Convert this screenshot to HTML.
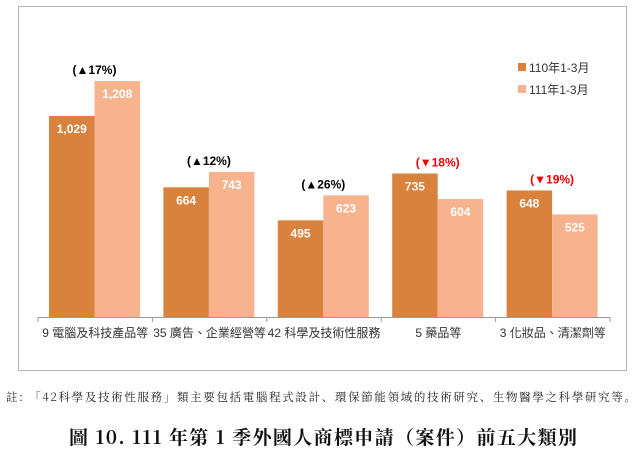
<!DOCTYPE html>
<html><head><meta charset="utf-8"><style>
body{margin:0;background:#fff;width:643px;height:452px;overflow:hidden;font-family:"Liberation Sans","Noto Sans CJK TC",sans-serif}
</style></head><body>
<svg id="c" width="643" height="452" xmlns="http://www.w3.org/2000/svg">
<rect x="18.5" y="6.5" width="608" height="364" fill="#fff" stroke="#b5b5b5"/>
<g id="bars"></g>
<g>
<rect x="518" y="63" width="8" height="8" fill="#d8823e"/>
<text x="529" y="72" font-size="12" fill="#333">110年1-3月</text>
<rect x="518" y="85" width="8" height="8" fill="#f6b38e"/>
<text x="529" y="94" font-size="12" fill="#333">111年1-3月</text>
</g>
<text x="6" y="401" font-size="11.5" textLength="630" lengthAdjust="spacing" fill="#222" font-family="'Noto Serif CJK SC','Liberation Serif',serif">註: 「42科學及技術性服務」類主要包括電腦程式設計、環保節能領域的技術研究、生物醫學之科學研究等。</text>
<text x="69" y="444" font-size="19" font-weight="bold" textLength="508" lengthAdjust="spacing" fill="#111" font-family="'Noto Serif CJK SC','Liberation Serif',serif">圖 10. 111 年第 1 季外國人商標申請（案件）前五大類別</text>
</svg>
<script>
const categories=["9 電腦及科技產品等","35 廣告、企業經營等","42 科學及技術性服務","5 藥品等","3 化妝品、清潔劑等"];
const series110=[1029,664,495,735,648];
const series111=[1208,743,623,604,525];
const changeLabels=["(▲17%)","(▲12%)","(▲26%)","(▼18%)","(▼19%)"];
const NS="http://www.w3.org/2000/svg";
const g=document.getElementById('bars');
const base=317, k=0.1953, x0=38, step=114.4, bw=45.5;
const y=v=>base-v*k;
function el(t,a){const e=document.createElementNS(NS,t);for(const p in a)e.setAttribute(p,a[p]);g.appendChild(e);return e;}
el('line',{x1:x0,y1:base+0.5,x2:x0+step*5,y2:base+0.5,stroke:'#999'});
for(let i=0;i<=5;i++){el('line',{x1:x0+i*step,y1:base,x2:x0+i*step,y2:base+5,stroke:'#999'});}
categories.forEach((c,i)=>{
  const gx=x0+i*step+11;
  [[series110[i],'#d8823e',0],[series111[i],'#f6b38e',1]].forEach(([v,col,j])=>{
    const r=el('rect',{x:gx+j*bw,y:y(v),width:bw,height:v*k,fill:col});
    
    
    const t=el('text',{x:gx+j*bw+bw/2,y:y(v)+17,'font-size':12,'font-weight':'bold','text-anchor':'middle',fill:'#fff'});
    t.textContent=v.toLocaleString('en-US');
    
    
  });
  const mx=Math.max(series110[i],series111[i]);
  const a=el('text',{x:gx+bw,y:y(mx)-7,'font-size':12,'font-weight':'bold','text-anchor':'middle',fill:changeLabels[i].includes('▼')?'#e00':'#000'});
  a.textContent=changeLabels[i];
  
  
  const l=el('text',{x:x0+i*step+step/2,y:base+20,'font-size':12,'text-anchor':'middle',fill:'#333'});
  l.textContent=c;
  
  
});
</script>
</body></html>
